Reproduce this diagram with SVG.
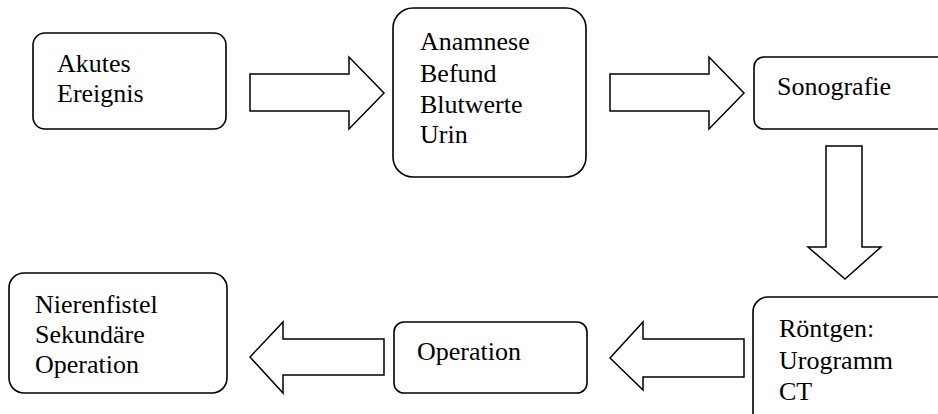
<svg xmlns="http://www.w3.org/2000/svg" width="938" height="414" viewBox="0 0 938 414">
  <style>
    .box { fill: #ffffff; stroke: #000000; stroke-width: 1.6; }
    .arrow { fill: #ffffff; stroke: #000000; stroke-width: 1.5; stroke-linejoin: miter; }
    text { font-family: 'Liberation Serif', 'DejaVu Serif', 'Times New Roman', Times, serif; font-size: 26px; fill: #000000; }
  </style>
  <rect width="938" height="414" fill="#ffffff"/>

  <!-- block arrows between the steps -->
  <g id="connectors">
    <polygon class="arrow" points="250,74 349,74 349,57 384,93 349,129 349,111 250,111"/>
    <polygon class="arrow" points="610,74 709,74 709,57 744,93 709,129 709,111 610,111"/>
    <polygon class="arrow" points="826,146 862,146 862,247 881,247 845,279 808,247 826,247"/>
    <polygon class="arrow" points="744,339 744,377 643,377 643,390 610,358 643,322 643,339"/>
    <polygon class="arrow" points="384,339 384,375 283,375 283,393 250,357 283,322 283,339"/>
  </g>

  <g font-family="Liberation Serif, serif">
    <g id="node-akutes">
      <rect class="box" x="33" y="33" width="193" height="96" rx="12"/>
      <text x="57" y="72">Akutes</text>
      <text x="57" y="102">Ereignis</text>
    </g>

    <g id="node-anamnese">
      <rect class="box" x="393" y="8" width="193" height="169" rx="20"/>
      <text x="420" y="50">Anamnese</text>
      <text x="420" y="81.5">Befund</text>
      <text x="420" y="113">Blutwerte</text>
      <text x="420" y="143">Urin</text>
    </g>

    <g id="node-sonografie">
      <rect class="box" x="754" y="57" width="200" height="72" rx="10"/>
      <text x="777" y="95">Sonografie</text>
    </g>

    <g id="node-roentgen">
      <rect class="box" x="753" y="297" width="200" height="140" rx="15"/>
      <text x="779" y="337">Röntgen:</text>
      <text x="779" y="369">Urogramm</text>
      <text x="779" y="400">CT</text>
    </g>

    <g id="node-operation">
      <rect class="box" x="394" y="322" width="193" height="71" rx="10"/>
      <text x="417" y="360">Operation</text>
    </g>

    <g id="node-nierenfistel">
      <rect class="box" x="9" y="273" width="218" height="120" rx="15"/>
      <text x="35" y="313">Nierenfistel</text>
      <text x="35" y="343">Sekundäre</text>
      <text x="35" y="373">Operation</text>
    </g>
  </g>
</svg>
